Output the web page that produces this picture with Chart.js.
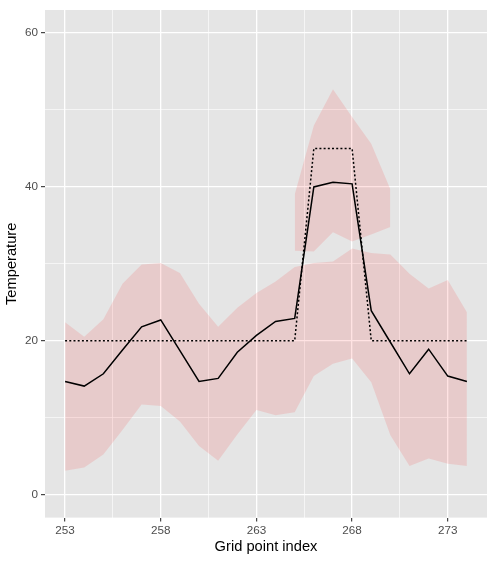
<!DOCTYPE html>
<html>
<head>
<meta charset="utf-8">
<script src="https://cdn.jsdelivr.net/npm/chart.js@4/dist/chart.umd.min.js"></script>
<style>
  html, body { margin: 0; padding: 0; background: #fff; }
  #wrap { width: 500px; height: 561px; }
</style>
</head>
<body>
<div id="wrap"><canvas id="grafik" width="500" height="561"></canvas></div>
<script>
// Data
const gridIndex = [253, 254, 255, 256, 257, 258, 259, 260, 261, 262, 263, 264, 265, 266, 267, 268, 269, 270, 271, 272, 273, 274];
const meanTemp = [14.7, 14.1, 15.7, 18.8, 21.8, 22.7, 18.7, 14.7, 15.1, 18.5, 20.7, 22.5, 22.9, 40.0, 40.6, 40.4, 23.9, 19.8, 15.7, 18.9, 15.4, 14.7];
const trueTemp = [20, 20, 20, 20, 20, 20, 20, 20, 20, 20, 20, 20, 20, 45, 45, 45, 20, 20, 20, 20, 20, 20];
const bandUpper = [22.4, 20.5, 22.8, 27.4, 29.9, 30.1, 28.8, 24.8, 21.8, 24.3, 26.2, 27.7, 29.6, 30.1, 30.3, 32.0, 31.4, 31.2, 28.7, 26.8, 27.9, 23.7];
const bandLower = [3.1, 3.5, 5.2, 8.4, 11.7, 11.5, 9.5, 6.3, 4.4, 7.8, 11.0, 10.3, 10.7, 15.4, 17.0, 17.7, 14.6, 7.7, 3.7, 4.7, 4.0, 3.7];
const peakIndex = [265, 266, 267, 268, 269, 270];
const peakUpper = [39.0, 48.0, 52.7, 49.1, 45.6, 39.7];
const peakLower = [31.7, 31.6, 34.1, 32.9, 33.8, 34.8];

const xMajor = [253, 258, 263, 268, 273];
const xTicks = [253, 255.5, 258, 260.5, 263, 265.5, 268, 270.5, 273];
const yMajor = [0, 20, 40, 60];
const yTicks = [0, 10, 20, 30, 40, 50, 60];

const bgPanel = "#E5E5E5";
const ribbon = "rgba(255,0,0,0.11)";
const fontFam = "'Liberation Sans', Arial, sans-serif";

const pts = (xs, ys) => xs.map((x, i) => ({ x, y: ys[i] }));

// latar abu-abu panel
const panelBg = {
  id: "panelBg",
  beforeDraw(chart) {
    const { ctx, chartArea: a } = chart;
    ctx.save();
    ctx.fillStyle = bgPanel;
    ctx.fillRect(a.left, a.top, a.right - a.left, a.bottom - a.top);
    ctx.restore();
  }
};

function gridOpts(major) {
  return {
    color: "#FFFFFF",
    lineWidth: c => (c.tick && major.includes(c.tick.value) ? 1.3 : 0.6),
    tickColor: c => (c.tick && major.includes(c.tick.value) ? "#333333" : "rgba(0,0,0,0)"),
    tickWidth: 1.1,
    tickLength: 4
  };
}

const ctx = document.getElementById("grafik").getContext("2d");
new Chart(ctx, {
  type: "line",
  data: {
    datasets: [
      { data: pts(gridIndex, meanTemp), borderColor: "#000", borderWidth: 1.5, pointRadius: 0, fill: false, order: 0 },
      { data: pts(gridIndex, trueTemp), borderColor: "#000", borderWidth: 1.5, borderDash: [2, 2.2], pointRadius: 0, fill: false, order: 1 },
      { data: pts(gridIndex, bandUpper), borderWidth: 0, borderColor: "rgba(0,0,0,0)", backgroundColor: ribbon, pointRadius: 0, fill: "+1", order: 2 },
      { data: pts(gridIndex, bandLower), borderWidth: 0, borderColor: "rgba(0,0,0,0)", pointRadius: 0, fill: false, order: 3 },
      { data: pts(peakIndex, peakUpper), borderWidth: 0, borderColor: "rgba(0,0,0,0)", backgroundColor: ribbon, pointRadius: 0, fill: "+1", order: 4 },
      { data: pts(peakIndex, peakLower), borderWidth: 0, borderColor: "rgba(0,0,0,0)", pointRadius: 0, fill: false, order: 5 }
    ]
  },
  options: {
    responsive: false,
    animation: false,
    layout: { padding: { top: 6, right: 13, left: 0, bottom: 0 } },
    plugins: { legend: { display: false }, tooltip: { enabled: false } },
    elements: { line: { tension: 0 } },
    scales: {
      x: {
        type: "linear",
        min: 251.95,
        max: 275.05,
        afterBuildTicks: s => { s.ticks = xTicks.map(v => ({ value: v })); },
        afterFit: s => { s.height = 43.4; },
        border: { display: false },
        grid: gridOpts(xMajor),
        ticks: {
          autoSkip: false,
          maxRotation: 0,
          padding: 2,
          color: "#4D4D4D",
          font: { family: fontFam, size: 11.7 },
          callback: v => (xMajor.includes(v) ? String(v) : "")
        },
        title: {
          display: true,
          text: "Grid point index",
          color: "#000",
          font: { family: fontFam, size: 14.7 },
          padding: { top: 0, bottom: 5 }
        }
      },
      y: {
        type: "linear",
        min: -3,
        max: 63,
        afterBuildTicks: s => { s.ticks = yTicks.map(v => ({ value: v })); },
        afterFit: s => { s.width = 45; },
        border: { display: false },
        grid: gridOpts(yMajor),
        ticks: {
          autoSkip: false,
          padding: 3,
          color: "#4D4D4D",
          font: { family: fontFam, size: 11.7 },
          callback: v => (yMajor.includes(v) ? String(v) : "")
        },
        title: {
          display: true,
          text: "Temperature",
          color: "#000",
          font: { family: fontFam, size: 14.7 },
          padding: { top: 3, bottom: 0 }
        }
      }
    }
  },
  plugins: [panelBg]
});
</script>
</body>
</html>
